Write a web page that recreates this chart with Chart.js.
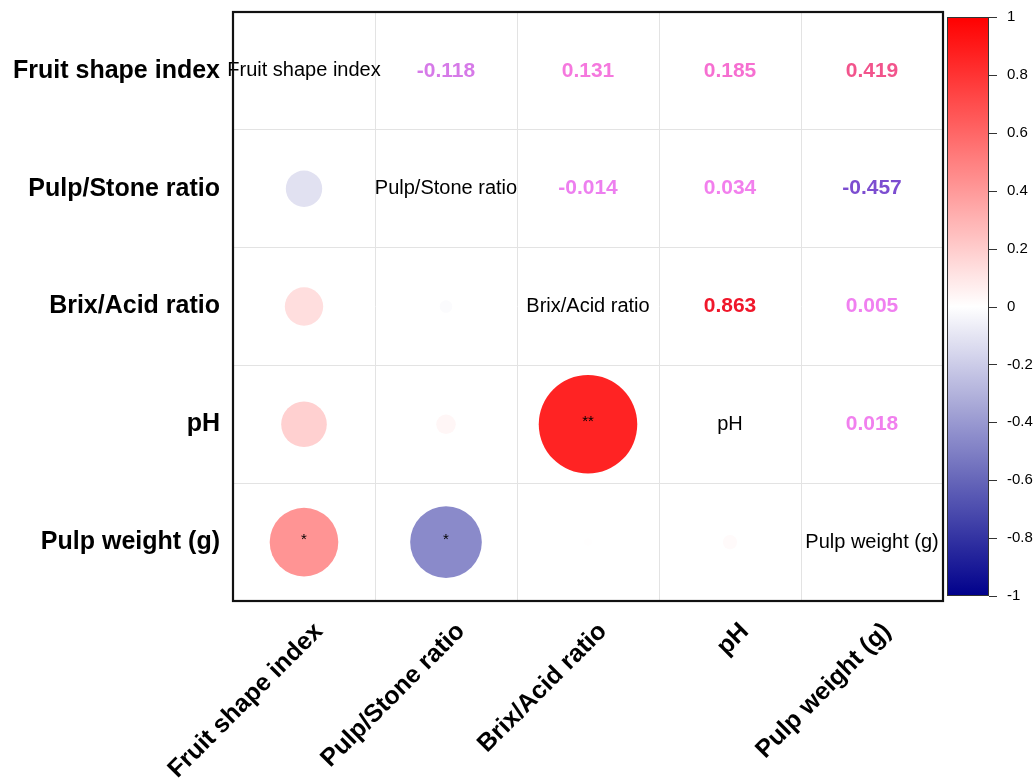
<!DOCTYPE html>
<html>
<head>
<meta charset="utf-8">
<script src="https://cdn.jsdelivr.net/npm/chart.js@4"></script>
<style>
  html, body { margin: 0; padding: 0; background: #ffffff; }
  #wrap { width: 1036px; height: 780px; position: relative; }
</style>
</head>
<body>
<div id="wrap"><canvas id="corr"></canvas></div>
<script>
// Traits in the correlation matrix (row / column order)
const traits = ["Fruit shape index", "Pulp/Stone ratio", "Brix/Acid ratio", "pH", "Pulp weight (g)"];

// Pairwise Pearson coefficients: pairFirst[i] vs pairSecond[i] (indices into traits)
const pairFirst  = [0, 0, 0, 0, 1, 1, 1, 2, 2, 3];
const pairSecond = [1, 2, 3, 4, 2, 3, 4, 3, 4, 4];
const coefficients = [-0.118, 0.131, 0.185, 0.419, -0.014, 0.034, -0.457, 0.863, 0.005, 0.018];
const significance = ["", "", "", "*", "", "", "*", "**", "", ""];

// Colour bar ticks
const colorbarTicks = [1, 0.8, 0.6, 0.4, 0.2, 0, -0.2, -0.4, -0.6, -0.8, -1];

// Blue - white - red scale used by the circles and the colour bar
function circleColor(v) {
  const t = Math.max(-1, Math.min(1, v));
  let r, g, b;
  if (t >= 0) { r = 255; g = 255 * (1 - t); b = 255 * (1 - t); }
  else { const a = -t; r = 255 * (1 - a); g = 255 * (1 - a); b = 255 - (255 - 139) * a; }
  return `rgb(${Math.round(r)},${Math.round(g)},${Math.round(b)})`;
}

// Purple - violet - red scale used by the coefficient text
const textStops = [
  [-1.0, [70, 40, 180]],
  [-0.46, [123, 77, 208]],
  [-0.12, [214, 122, 232]],
  [0.0, [240, 128, 240]],
  [0.10, [245, 126, 230]],
  [0.19, [246, 110, 208]],
  [0.42, [242, 84, 140]],
  [0.86, [240, 24, 42]],
  [1.0, [240, 0, 20]]
];
function textColor(v) {
  for (let i = 0; i < textStops.length - 1; i++) {
    const [v0, c0] = textStops[i], [v1, c1] = textStops[i + 1];
    if (v >= v0 && v <= v1) {
      const f = (v - v0) / (v1 - v0);
      const c = c0.map((x, k) => Math.round(x + (c1[k] - x) * f));
      return `rgb(${c[0]},${c[1]},${c[2]})`;
    }
  }
  return "rgb(240,128,240)";
}

// Lower triangle: one circle per pair, placed at (column = first trait, row = second trait)
const circlePoints = coefficients.map((v, i) => ({ x: pairFirst[i], y: pairSecond[i] }));

// circle area proportional to |r|, largest circle fills 90% of a cell
function circleRadius(chart, v) {
  const a = chart.chartArea;
  if (!a) return 0;
  const cell = Math.min(a.right - a.left, a.bottom - a.top) / traits.length;
  return 0.45 * cell * Math.sqrt(Math.abs(v));
}

const FONT = "'Liberation Sans', Arial, Helvetica, sans-serif";

const matrixPlugin = {
  id: "matrixText",
  afterLayout(chart) {
    // colour bar sits slightly inside the panel height
    const s = chart.scales.cb;
    s.top += 5; s.bottom -= 5; s.height = s.bottom - s.top;
    s.configure();
  },
  afterDatasetsDraw(chart) {
    const { ctx, chartArea: a, scales } = chart;
    const xs = scales.x, ys = scales.y;
    ctx.save();
    ctx.textAlign = "center";
    ctx.textBaseline = "middle";

    // diagonal: trait names
    ctx.fillStyle = "#000";
    ctx.font = `20px ${FONT}`;
    traits.forEach((t, i) => {
      ctx.fillText(t, xs.getPixelForValue(i), ys.getPixelForValue(i));
    });

    // upper triangle: coefficients
    ctx.font = `bold 21px ${FONT}`;
    coefficients.forEach((v, i) => {
      ctx.fillStyle = textColor(v);
      ctx.fillText(v.toFixed(3), xs.getPixelForValue(pairSecond[i]), ys.getPixelForValue(pairFirst[i]));
    });

    // significance stars on the circles
    ctx.fillStyle = "#000";
    ctx.font = `15px ${FONT}`;
    significance.forEach((s, i) => {
      if (s) ctx.fillText(s, xs.getPixelForValue(pairFirst[i]), ys.getPixelForValue(pairSecond[i]) - 2);
    });

    // panel frame
    ctx.strokeStyle = "#111";
    ctx.lineWidth = 2.2;
    ctx.strokeRect(a.left, a.top, a.right - a.left, a.bottom - a.top);

    // colour bar
    const cb = scales.cb;
    const bx = a.right + 4, bw = 42;
    const yTop = cb.getPixelForValue(1), yBot = cb.getPixelForValue(-1);
    const grad = ctx.createLinearGradient(0, yTop, 0, yBot);
    for (let k = 0; k <= 40; k++) {
      grad.addColorStop(k / 40, circleColor(1 - k / 20));
    }
    ctx.fillStyle = grad;
    ctx.fillRect(bx, yTop, bw, yBot - yTop);
    ctx.strokeStyle = "#333";
    ctx.lineWidth = 1;
    ctx.strokeRect(bx + 0.5, yTop + 0.5, bw - 1, yBot - yTop - 1);
    ctx.beginPath();
    colorbarTicks.forEach(v => {
      const y = Math.round(cb.getPixelForValue(v)) + 0.5;
      ctx.moveTo(bx + bw, y);
      ctx.lineTo(bx + bw + 8, y);
    });
    ctx.stroke();
    ctx.restore();
  }
};

new Chart(document.getElementById("corr"), {
  type: "scatter",
  data: {
    datasets: [{
      xAxisID: "x",
      yAxisID: "y",
      data: circlePoints,
      showLine: false,
      pointBackgroundColor: ctx => circleColor(coefficients[ctx.dataIndex] || 0),
      pointBorderWidth: 0,
      pointRadius: ctx => circleRadius(ctx.chart, coefficients[ctx.dataIndex] || 0),
      pointHoverRadius: ctx => circleRadius(ctx.chart, coefficients[ctx.dataIndex] || 0)
    }]
  },
  options: {
    responsive: true,
    maintainAspectRatio: false,
    animation: false,
    events: [],
    layout: { autoPadding: false, padding: { top: 12, left: 0, right: 0, bottom: 0 } },
    plugins: { legend: { display: false }, tooltip: { enabled: false } },
    scales: {
      x: {
        type: "linear",
        min: -0.5, max: 4.5,
        position: "bottom",
        grid: { offset: true, color: "#e3e3e3", lineWidth: 1, drawTicks: false },
        border: { display: false },
        afterBuildTicks: s => { s.ticks = traits.map((t, i) => ({ value: i })); },
        ticks: {
          autoSkip: false, minRotation: 45, maxRotation: 45,
          padding: 16, labelOffset: 15,
          color: "#000", font: { family: FONT, size: 25, weight: "bold" },
          callback: (v) => traits[Math.round(v)]
        },
        afterFit: s => { s.height = 179; s.paddingLeft = 0; s.paddingRight = 0; }
      },
      y: {
        type: "linear",
        min: -0.5, max: 4.5,
        reverse: true,
        position: "left",
        grid: { offset: true, color: "#e3e3e3", lineWidth: 1, drawTicks: false },
        border: { display: false },
        afterBuildTicks: s => { s.ticks = traits.map((t, i) => ({ value: i })); },
        ticks: {
          autoSkip: false, padding: 13,
          color: "#000", font: { family: FONT, size: 25, weight: "bold" },
          callback: (v) => traits[Math.round(v)]
        },
        afterFit: s => { s.width = 233; s.paddingTop = 0; s.paddingBottom = 0; }
      },
      cb: {
        type: "linear",
        position: "right",
        min: -1, max: 1,
        grid: { display: false, drawTicks: false },
        border: { display: false },
        afterBuildTicks: s => { s.ticks = colorbarTicks.map(v => ({ value: v })); },
        ticks: {
          padding: 64,
          color: "#000",
          font: { family: FONT, size: 15 },
          callback: v => String(+v.toFixed(1))
        },
        afterFit: s => { s.width = 93; s.paddingTop = 0; s.paddingBottom = 0; }
      }
    }
  },
  plugins: [matrixPlugin]
});
</script>
</body>
</html>
